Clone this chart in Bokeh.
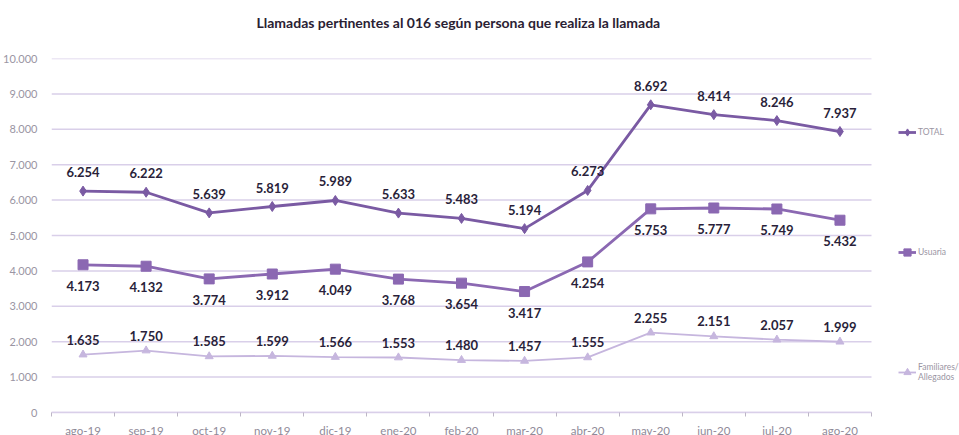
from bokeh.plotting import figure
from bokeh.models import ColumnDataSource, FixedTicker, Legend, LegendItem, LabelSet
from bokeh.core.properties import value
from bokeh.embed import file_html
from bokeh.resources import INLINE

months = ["ago-19", "sep-19", "oct-19", "nov-19", "dic-19", "ene-20", "feb-20",
          "mar-20", "abr-20", "may-20", "jun-20", "jul-20", "ago-20"]
total = [6254, 6222, 5639, 5819, 5989, 5633, 5483, 5194, 6273, 8692, 8414, 8246, 7937]
usuaria = [4173, 4132, 3774, 3912, 4049, 3768, 3654, 3417, 4254, 5753, 5777, 5749, 5432]
familiares = [1635, 1750, 1585, 1599, 1566, 1553, 1480, 1457, 1555, 2255, 2151, 2057, 1999]
y_ticks = list(range(0, 10001, 1000))

def fmt(v):
    return f"{v:,}".replace(",", ".")

x = list(range(len(months)))
src = ColumnDataSource(dict(
    x=x, total=total, usuaria=usuaria, fam=familiares,
    total_l=[fmt(v) for v in total],
    usuaria_l=[fmt(v) for v in usuaria],
    fam_l=[fmt(v) for v in familiares],
))

FONT = "Lato"
GRID = "#d9cfe9"

FRAME_W = 911          # plot area incl. legend zone on the right
CHART_W = 820          # width used by the 13 month slots
x_end = -0.5 + len(months) * FRAME_W / CHART_W

p = figure(frame_width=FRAME_W, frame_height=354,
           x_range=(-0.5, x_end), y_range=(0, 10000),
           output_backend="svg", toolbar_location=None,
           min_border_left=48, min_border_right=0, min_border_top=56, min_border_bottom=25)
p.outline_line_color = None
p.background_fill_color = "white"
p.border_fill_color = "white"

# second (blank) line lifts the title higher above the plot area
p.title.text = "Llamadas pertinentes al 016 según persona que realiza la llamada\n\u00a0"
p.title.align = "left"
p.title.offset = 253 - 48
p.title.standoff = 22
p.title.text_font = FONT
p.title.text_font_size = "14px"
p.title.text_font_style = "bold"
p.title.text_color = "#2a2133"

# axes
p.xaxis.ticker = FixedTicker(ticks=x, minor_ticks=[i - 0.5 for i in range(len(months) + 1)])
p.xaxis.major_label_overrides = {i: m for i, m in enumerate(months)}
p.xaxis.bounds = (-0.5, len(months) - 0.5)
p.xaxis.axis_line_color = GRID
p.xaxis.axis_line_width = 1.5
p.xaxis.major_tick_line_color = None
p.xaxis.minor_tick_line_color = "#bdb6c6"
p.xaxis.minor_tick_out = 4
p.xaxis.minor_tick_in = 0
p.xaxis.major_label_text_font = FONT
p.xaxis.major_label_text_font_size = "11.5px"
p.xaxis.major_label_text_color = "#8f8a98"
p.xaxis.major_label_standoff = 5

p.yaxis.ticker = FixedTicker(ticks=y_ticks)
p.yaxis.major_label_overrides = {v: fmt(v) for v in y_ticks}
p.yaxis.axis_line_color = None
p.yaxis.major_tick_line_color = None
p.yaxis.minor_tick_line_color = None
p.yaxis.major_label_text_font = FONT
p.yaxis.major_label_text_font_size = "11px"
p.yaxis.major_label_text_color = "#9a95a3"
p.yaxis.major_label_standoff = 8

p.xgrid.grid_line_color = None
p.ygrid.grid_line_color = None
# horizontal gridlines limited to the months area
p.segment(x0=-0.5, x1=len(months) - 0.5, y0=y_ticks, y1=y_ticks,
          line_color=GRID, line_width=1.5)

C_TOTAL = "#7a5aa3"
C_USU = "#8b68b2"
C_FAM = "#c6b6de"

l1 = p.line("x", "total", source=src, line_color=C_TOTAL, line_width=2.8)
s1 = p.scatter("x", "total", source=src, marker="diamond", size=10, color=C_TOTAL)
l2 = p.line("x", "usuaria", source=src, line_color=C_USU, line_width=2.8)
s2 = p.scatter("x", "usuaria", source=src, marker="square", size=10, color=C_USU)
l3 = p.line("x", "fam", source=src, line_color=C_FAM, line_width=1.8)
s3 = p.scatter("x", "fam", source=src, marker="triangle", size=8, color=C_FAM)

LBL = dict(source=src, text_font=value(FONT), text_font_size=value("13px"),
           text_font_style=value("bold"), text_color=value("#2a1f3a"),
           text_align=value("center"), text_baseline=value("middle"))
p.add_layout(LabelSet(x="x", y="total", text="total_l", y_offset=19, **LBL))
p.add_layout(LabelSet(x="x", y="usuaria", text="usuaria_l", y_offset=-21, **LBL))
p.add_layout(LabelSet(x="x", y="fam", text="fam_l", y_offset=15, **LBL))

legend = Legend(items=[
    LegendItem(label="TOTAL", renderers=[l1, s1]),
    LegendItem(label="Usuaria", renderers=[l2, s2]),
    LegendItem(label="Familiares/\nAllegados", renderers=[l3, s3]),
], location=(847, 30))
legend.spacing = 100
legend.padding = 0
legend.margin = 0
legend.border_line_color = None
legend.background_fill_alpha = 0
legend.glyph_width = 18
legend.label_standoff = 2
legend.label_text_font = FONT
legend.label_text_font_size = "8.5px"
legend.label_text_color = "#9a95a3"
p.add_layout(legend)

open("out.html", "w").write(file_html(p, INLINE))
